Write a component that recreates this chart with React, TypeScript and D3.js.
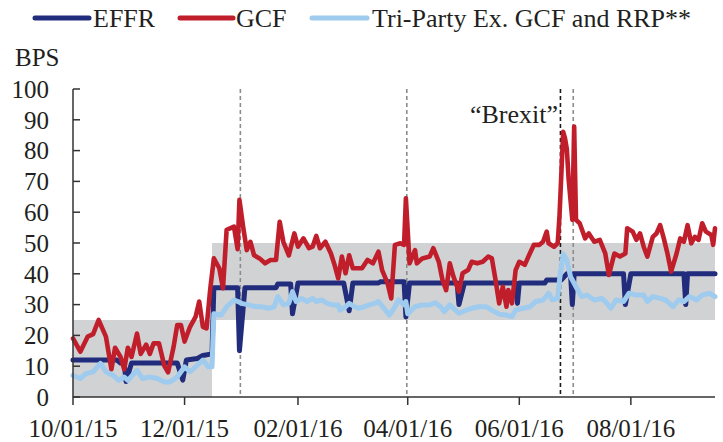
import * as d3 from 'd3';

const W = 723;
const H = 442;
const FONT = '"Liberation Serif", "Times New Roman", serif';
const INK = '#231f20';

// x axis labels and y ticks
const xTickLabels = ['10/01/15', '12/01/15', '02/01/16', '04/01/16', '06/01/16', '08/01/16'];
const yTickValues = [0, 10, 20, 30, 40, 50, 60, 70, 80, 90, 100];

// FOMC target range (shaded)
const bandStart = ['10/01/15', '12/16/15'];
const bandEnd = ['12/16/15', '09/16/16'];
const bandLow = [0, 25];
const bandHigh = [25, 50];

// quarter ends and Brexit
const eventDates = ['12/31/15', '03/31/16', '06/23/16', '06/30/16'];
const eventBlack = [false, false, true, false];

const seriesNames = ['EFFR', 'GCF', 'Tri-Party Ex. GCF and RRP**'];
const seriesColors = ['#212c7c', '#c11e2b', '#9ecbee'];

const effr: [string, number][] = [
  ['10/01/15', 12], ['10/25/15', 12], ['10/27/15', 11], ['10/29/15', 11], ['10/30/15', 5],
  ['11/02/15', 11], ['11/27/15', 11], ['11/30/15', 5.5], ['12/02/15', 12], ['12/08/15', 12.5],
  ['12/11/15', 13.5], ['12/16/15', 14], ['12/17/15', 35.5], ['12/30/15', 35.5], ['12/31/15', 15],
  ['01/03/16', 35.5], ['01/20/16', 35.5], ['01/21/16', 36.7], ['01/28/16', 36.7], ['01/29/16', 27],
  ['02/01/16', 37], ['02/26/16', 37], ['02/29/16', 28], ['03/02/16', 37], ['03/16/16', 37],
  ['03/17/16', 37.4], ['03/30/16', 37.4], ['03/31/16', 26], ['04/02/16', 37], ['04/28/16', 37],
  ['04/29/16', 30], ['05/02/16', 37], ['05/30/16', 37], ['05/31/16', 30.4], ['06/01/16', 37],
  ['06/15/16', 37], ['06/16/16', 38], ['06/24/16', 38], ['06/27/16', 40], ['06/29/16', 40],
  ['06/30/16', 30], ['07/01/16', 40], ['07/28/16', 40], ['07/29/16', 30], ['08/01/16', 40],
  ['08/30/16', 40], ['08/31/16', 30], ['09/01/16', 40], ['09/16/16', 40],
];

const gcf: [string, number][] = [
  ['10/01/15', 19], ['10/05/15', 14.7], ['10/09/15', 19.6], ['10/12/15', 20.4], ['10/15/15', 25],
  ['10/19/15', 19.6], ['10/22/15', 9], ['10/24/15', 16], ['10/27/15', 13], ['10/29/15', 9],
  ['10/31/15', 16], ['11/02/15', 13], ['11/05/15', 20.6], ['11/07/15', 14], ['11/10/15', 17],
  ['11/12/15', 14], ['11/14/15', 17.4], ['11/17/15', 17.4], ['11/20/15', 10], ['11/22/15', 8],
  ['11/25/15', 16.3], ['11/27/15', 23.4], ['11/29/15', 23.4], ['12/01/15', 18], ['12/04/15', 22.8],
  ['12/07/15', 26], ['12/09/15', 31], ['12/11/15', 22.8], ['12/13/15', 22.3], ['12/15/15', 34.8],
  ['12/17/15', 45], ['12/20/15', 41.8], ['12/22/15', 35.3], ['12/24/15', 54.3], ['12/28/15', 55.3],
  ['12/30/15', 48], ['12/31/15', 64], ['01/02/16', 55.3], ['01/04/16', 47.7], ['01/06/16', 50.4],
  ['01/08/16', 46], ['01/11/16', 45], ['01/14/16', 43.4], ['01/17/16', 44.5], ['01/20/16', 44.5],
  ['01/22/16', 56.9], ['01/24/16', 50.4], ['01/27/16', 46], ['01/30/16', 53.1], ['02/01/16', 48.8],
  ['02/04/16', 51.5], ['02/07/16', 48.3], ['02/09/16', 48.8], ['02/11/16', 52.3], ['02/13/16', 48.3],
  ['02/16/16', 50.4], ['02/19/16', 46.6], ['02/21/16', 42.9], ['02/23/16', 38.5], ['02/25/16', 45.6],
  ['02/27/16', 40.2], ['02/29/16', 46], ['03/02/16', 41.8], ['03/04/16', 41.8], ['03/07/16', 41.8],
  ['03/10/16', 44.5], ['03/13/16', 43.4], ['03/16/16', 47.2], ['03/18/16', 41.2], ['03/21/16', 36.9],
  ['03/23/16', 32], ['03/25/16', 49.4], ['03/28/16', 49.9], ['03/30/16', 49.4], ['03/31/16', 64.5],
  ['04/02/16', 43.4], ['04/05/16', 47.7], ['04/06/16', 43.4], ['04/09/16', 45], ['04/13/16', 45.6],
  ['04/15/16', 48.3], ['04/18/16', 43.9], ['04/20/16', 38], ['04/22/16', 34.7], ['04/24/16', 43.4],
  ['04/26/16', 39.1], ['04/29/16', 34.2], ['05/01/16', 40.2], ['05/04/16', 41.2], ['05/06/16', 43.9],
  ['05/09/16', 43.4], ['05/12/16', 43.9], ['05/15/16', 45.6], ['05/17/16', 45], ['05/19/16', 38],
  ['05/21/16', 30.4], ['05/23/16', 35.8], ['05/25/16', 29.3], ['05/26/16', 34.7], ['05/28/16', 30.4],
  ['05/30/16', 41.2], ['06/01/16', 43.9], ['06/04/16', 42.9], ['06/06/16', 45.6], ['06/09/16', 49.4],
  ['06/12/16', 49.4], ['06/14/16', 50.4], ['06/16/16', 53.7], ['06/17/16', 49.9], ['06/20/16', 48.8],
  ['06/22/16', 49.9], ['06/23/16', 59], ['06/25/16', 86.1], ['06/26/16', 84], ['06/27/16', 80.5],
  ['06/28/16', 70.5], ['06/30/16', 57.5], ['07/01/16', 87.8], ['07/02/16', 57.5], ['07/04/16', 56.4],
  ['07/07/16', 51.5], ['07/09/16', 53.1], ['07/12/16', 50.4], ['07/15/16', 51], ['07/18/16', 46.6],
  ['07/20/16', 39.6], ['07/23/16', 46.6], ['07/26/16', 45.6], ['07/29/16', 46.6], ['07/30/16', 54.8],
  ['08/02/16', 53.7], ['08/04/16', 51], ['08/06/16', 53.1], ['08/08/16', 48.8], ['08/10/16', 45.6],
  ['08/13/16', 52], ['08/15/16', 53.1], ['08/17/16', 55.8], ['08/19/16', 51.5], ['08/21/16', 46.6],
  ['08/23/16', 40.7], ['08/26/16', 46.6], ['08/28/16', 51.5], ['08/30/16', 50.4], ['09/01/16', 55.8],
  ['09/03/16', 49.9], ['09/05/16', 52], ['09/07/16', 51], ['09/09/16', 56.4], ['09/11/16', 53.7],
  ['09/14/16', 52.6], ['09/15/16', 49.4], ['09/16/16', 54.8],
];

const triParty: [string, number][] = [
  ['10/01/15', 7], ['10/05/15', 6], ['10/08/15', 7.6], ['10/12/15', 8.2], ['10/16/15', 10.9],
  ['10/19/15', 8.2], ['10/23/15', 7], ['10/26/15', 5.4], ['10/29/15', 6.5], ['10/31/15', 5.4],
  ['11/05/15', 8.7], ['11/08/15', 6], ['11/12/15', 6.5], ['11/16/15', 6], ['11/20/15', 4.9],
  ['11/23/15', 4.9], ['11/27/15', 6.5], ['12/01/15', 9.8], ['12/04/15', 8.2], ['12/07/15', 9.8],
  ['12/11/15', 12], ['12/14/15', 9.8], ['12/16/15', 9.8], ['12/17/15', 27], ['12/21/15', 26.6],
  ['12/24/15', 29.3], ['12/28/15', 31.5], ['12/31/15', 30.8], ['01/01/16', 30.4], ['01/05/16', 29.9],
  ['01/09/16', 29.3], ['01/12/16', 29.3], ['01/16/16', 28.8], ['01/19/16', 29.3], ['01/21/16', 32.6],
  ['01/24/16', 29.9], ['01/27/16', 30.4], ['01/29/16', 34.2], ['01/31/16', 31], ['02/03/16', 32],
  ['02/06/16', 31], ['02/09/16', 32], ['02/11/16', 31], ['02/14/16', 31.5], ['02/17/16', 30.4],
  ['02/20/16', 29.9], ['02/23/16', 29.9], ['02/24/16', 28.2], ['02/27/16', 29.3], ['02/29/16', 30.4],
  ['03/03/16', 29.3], ['03/05/16', 28.8], ['03/08/16', 29.3], ['03/11/16', 29.9], ['03/14/16', 30.4],
  ['03/16/16', 31], ['03/19/16', 28.8], ['03/22/16', 26.6], ['03/25/16', 29.3], ['03/27/16', 31.5],
  ['03/30/16', 29.9], ['03/31/16', 31], ['04/01/16', 27], ['04/05/16', 29.3], ['04/09/16', 29.9],
  ['04/13/16', 29.9], ['04/16/16', 30.6], ['04/19/16', 29.3], ['04/21/16', 27.7], ['04/24/16', 29.9],
  ['04/26/16', 28.8], ['04/29/16', 27.2], ['05/03/16', 28.2], ['05/06/16', 28.8], ['05/10/16', 29.3],
  ['05/14/16', 29.3], ['05/17/16', 28.2], ['05/21/16', 26.9], ['05/25/16', 26.6], ['05/28/16', 26.1],
  ['05/30/16', 28.2], ['06/03/16', 28.8], ['06/07/16', 29.3], ['06/10/16', 31], ['06/14/16', 31.5],
  ['06/17/16', 33.7], ['06/19/16', 31.5], ['06/22/16', 32], ['06/23/16', 38], ['06/25/16', 46.4],
  ['06/27/16', 44.5], ['06/29/16', 39.1], ['07/02/16', 35.8], ['07/05/16', 32.6], ['07/08/16', 33.1],
  ['07/12/16', 31.5], ['07/16/16', 32], ['07/18/16', 31], ['07/21/16', 28.8], ['07/24/16', 31.5],
  ['07/28/16', 31], ['07/31/16', 33.7], ['08/04/16', 33.1], ['08/08/16', 33.1], ['08/10/16', 31],
  ['08/13/16', 32.6], ['08/17/16', 32], ['08/20/16', 31.5], ['08/24/16', 29.3], ['08/27/16', 31.5],
  ['08/30/16', 31], ['09/02/16', 32.6], ['09/06/16', 31.5], ['09/09/16', 33.1], ['09/13/16', 33.7],
  ['09/16/16', 32.6],
];

const parse = d3.timeParse('%m/%d/%y');
const toDate = (s: string) => parse(s) as Date;

const App = () => {
  const x = d3
    .scaleTime()
    .domain([toDate('10/01/15'), toDate('09/16/16')])
    .range([73, 715]);
  const y = d3.scaleLinear().domain([0, 100]).range([397, 89]);

  const line = d3
    .line<[string, number]>()
    .x((d) => x(toDate(d[0])))
    .y((d) => y(d[1]));

  const series = [effr, gcf, triParty];
  const widths = [5, 4.6, 5];

  // legend positions
  const legendLines = [
    [35, 89],
    [180, 233],
    [312, 367],
  ];
  const legendText = [93, 236, 372];

  return (
    <svg
      width={W}
      height={H}
      style={{ position: 'absolute', left: 0, top: 0, display: 'block', background: '#fff' }}
      fontFamily={FONT}
    >
      {/* target range bands */}
      {bandStart.map((s, i) => (
        <rect
          key={'band' + i}
          x={x(toDate(s))}
          y={y(bandHigh[i])}
          width={x(toDate(bandEnd[i])) - x(toDate(s))}
          height={y(bandLow[i]) - y(bandHigh[i])}
          fill='#d1d2d4'
        />
      ))}

      {/* event lines */}
      {eventDates.map((s, i) => {
        const xx = x(d3.timeHour.offset(toDate(s), 12));
        return (
          <line
            key={'ev' + i}
            x1={xx}
            x2={xx}
            y1={y(100)}
            y2={y(0)}
            stroke={eventBlack[i] ? '#1a1a1a' : '#8c8c8c'}
            strokeWidth={1.6}
            strokeDasharray='4,3'
          />
        );
      })}

      {/* series */}
      {series.map((s, i) => (
        <path
          key={'s' + i}
          d={line(s) || ''}
          fill='none'
          stroke={seriesColors[i]}
          strokeWidth={widths[i]}
          strokeLinejoin='round'
          strokeLinecap='round'
        />
      ))}

      {/* axes */}
      <line x1={73} x2={73} y1={y(100)} y2={y(0)} stroke='#333' strokeWidth={1.5} />
      <line x1={73} x2={715} y1={y(0)} y2={y(0)} stroke='#333' strokeWidth={1.5} />
      {yTickValues.map((v) => (
        <g key={'y' + v}>
          <line x1={73} x2={80} y1={y(v)} y2={y(v)} stroke='#333' strokeWidth={1.5} />
          <text
            x={49}
            y={y(v)}
            dy='0.35em'
            textAnchor='end'
            fontSize={25}
            fill={INK}
          >
            {v}
          </text>
        </g>
      ))}
      {xTickLabels.map((s) => (
        <g key={'x' + s}>
          <line
            x1={x(toDate(s))}
            x2={x(toDate(s))}
            y1={y(0)}
            y2={y(0) + 8}
            stroke='#333'
            strokeWidth={1.5}
          />
          <text x={x(toDate(s))} y={437} textAnchor='middle' fontSize={25} fill={INK}>
            {s}
          </text>
        </g>
      ))}

      <text x={15} y={66} fontSize={25} fill={INK}>
        BPS
      </text>

      <text x={558} y={123} textAnchor='end' fontSize={26} fill={INK}>
        “Brexit”
      </text>

      {/* legend */}
      {seriesNames.map((n, i) => (
        <g key={'lg' + i}>
          <line
            x1={legendLines[i][0]}
            x2={legendLines[i][1]}
            y1={18}
            y2={18}
            stroke={seriesColors[i]}
            strokeWidth={5}
            strokeLinecap='round'
          />
          <text x={legendText[i]} y={27} fontSize={26} fill={INK}>
            {n}
          </text>
        </g>
      ))}
    </svg>
  );
};

export default App;
